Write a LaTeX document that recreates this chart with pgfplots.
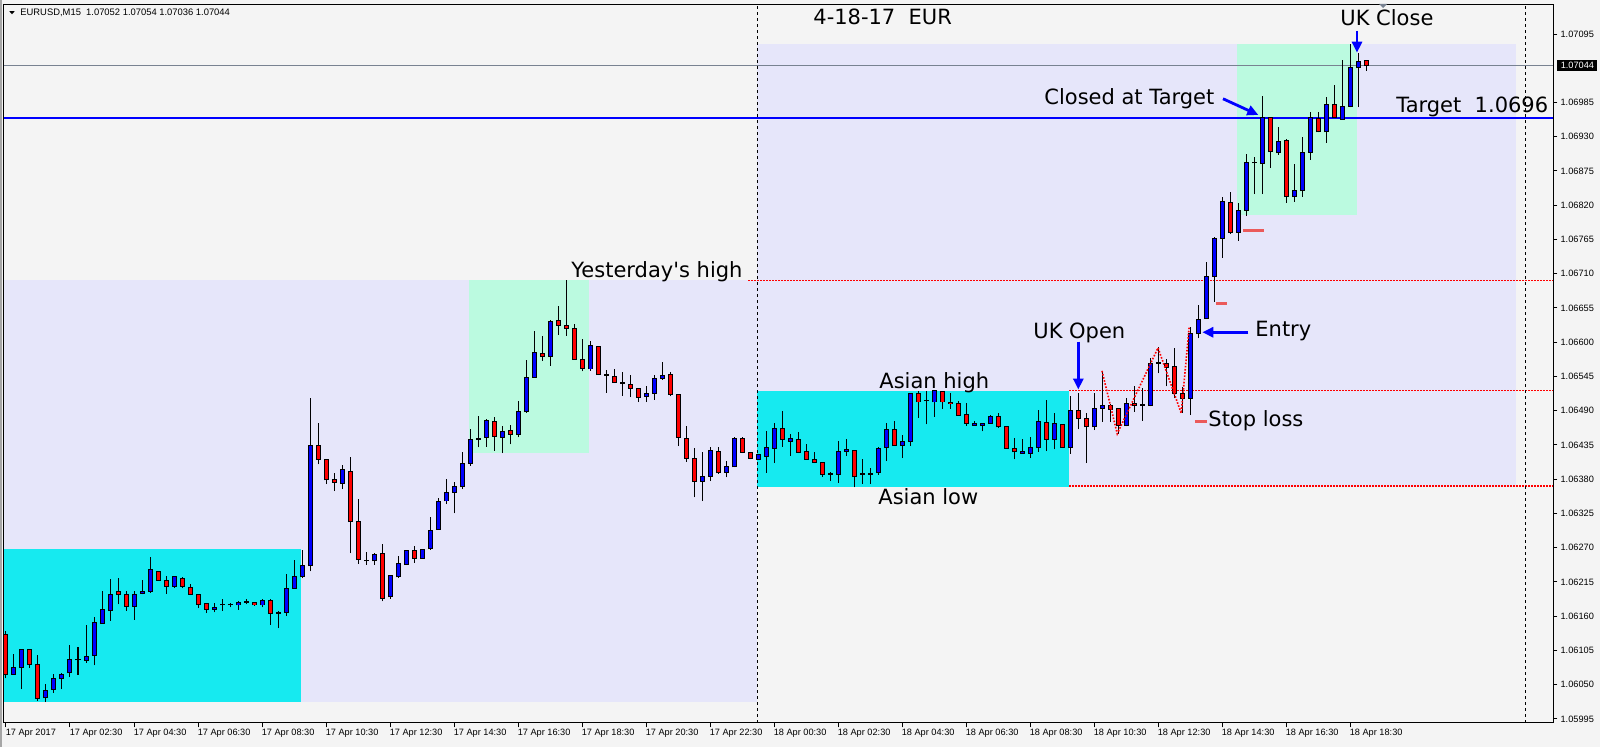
\documentclass[border=0pt]{standalone}
\usepackage{fontspec}
\setmainfont{DejaVu Sans}
\newfontfamily\tickfont{Liberation Sans}
\usepackage{pgfplots}
\pgfplotsset{compat=1.18}
\usepackage{pgfplotstable}
\usetikzlibrary{arrows.meta}
\definecolor{bgcol}{RGB}{244,244,244}
\definecolor{lav}{RGB}{230,230,250}
\definecolor{cyanbox}{RGB}{22,234,240}
\definecolor{mint}{RGB}{187,250,224}
\definecolor{upblue}{RGB}{0,0,255}
\definecolor{downred}{RGB}{255,0,0}
\definecolor{lvlgray}{RGB}{120,130,145}
\definecolor{salmon}{RGB}{235,90,90}

\pgfplotstableread{
x o h l c
0 1.06130 1.06136 1.06060 1.06067
1 1.06067 1.06099 1.06066 1.06078
2 1.06078 1.06108 1.06043 1.06106
3 1.06107 1.06108 1.06077 1.06083
4 1.06083 1.06098 1.06024 1.06028
5 1.06029 1.06051 1.06022 1.06041
6 1.06043 1.06067 1.06037 1.06060
7 1.06060 1.06068 1.06043 1.06067
8 1.06069 1.06114 1.06062 1.06091
9 1.06090 1.06111 1.06066 1.06090
10 1.06089 1.06146 1.06085 1.06096
11 1.06097 1.06158 1.06081 1.06150
12 1.06148 1.06200 1.06148 1.06170
13 1.06169 1.06220 1.06153 1.06195
14 1.06199 1.06221 1.06179 1.06195
15 1.06195 1.06200 1.06169 1.06176
16 1.06176 1.06200 1.06154 1.06195
17 1.06197 1.06218 1.06195 1.06200
18 1.06200 1.06255 1.06198 1.06235
19 1.06232 1.06233 1.06217 1.06218
20 1.06218 1.06224 1.06196 1.06208
21 1.06208 1.06224 1.06206 1.06223
22 1.06221 1.06223 1.06205 1.06208
23 1.06206 1.06211 1.06194 1.06195
24 1.06195 1.06196 1.06173 1.06179
25 1.06181 1.06182 1.06165 1.06171
26 1.06171 1.06182 1.06166 1.06174
27 1.06178 1.06187 1.06169 1.06178
28 1.06178 1.06182 1.06174 1.06178
29 1.06178 1.06184 1.06170 1.06182
30 1.06182 1.06187 1.06179 1.06182
31 1.06182 1.06183 1.06177 1.06178
32 1.06178 1.06187 1.06174 1.06186
33 1.06186 1.06187 1.06146 1.06165
34 1.06165 1.06168 1.06141 1.06165
35 1.06166 1.06228 1.06161 1.06205
36 1.06205 1.06250 1.06204 1.06223
37 1.06223 1.06267 1.06221 1.06241
38 1.06241 1.06510 1.06232 1.06434
39 1.06434 1.06470 1.06404 1.06412
40 1.06412 1.06413 1.06372 1.06379
41 1.06380 1.06390 1.06361 1.06375
42 1.06373 1.06403 1.06364 1.06396
43 1.06393 1.06415 1.06261 1.06312
44 1.06312 1.06349 1.06244 1.06251
45 1.06249 1.06263 1.06243 1.06249
46 1.06249 1.06261 1.06243 1.06259
47 1.06261 1.06276 1.06184 1.06189
48 1.06191 1.06226 1.06188 1.06225
49 1.06223 1.06256 1.06222 1.06244
50 1.06243 1.06266 1.06242 1.06265
51 1.06265 1.06272 1.06246 1.06253
52 1.06253 1.06268 1.06252 1.06267
53 1.06268 1.06319 1.06267 1.06298
54 1.06300 1.06350 1.06299 1.06345
55 1.06345 1.06380 1.06340 1.06359
56 1.06359 1.06376 1.06325 1.06369
57 1.06368 1.06424 1.06364 1.06406
58 1.06406 1.06460 1.06402 1.06444
59 1.06444 1.06482 1.06431 1.06444
60 1.06447 1.06477 1.06432 1.06475
61 1.06473 1.06480 1.06426 1.06449
62 1.06447 1.06466 1.06422 1.06457
63 1.06459 1.06467 1.06436 1.06452
64 1.06452 1.06506 1.06447 1.06489
65 1.06488 1.06571 1.06487 1.06544
66 1.06544 1.06618 1.06543 1.06584
67 1.06582 1.06610 1.06570 1.06577
68 1.06577 1.06635 1.06562 1.06634
69 1.06635 1.06658 1.06612 1.06627
70 1.06627 1.06700 1.06610 1.06622
71 1.06622 1.06630 1.06572 1.06573
72 1.06573 1.06605 1.06553 1.06558
73 1.06557 1.06602 1.06554 1.06595
74 1.06593 1.06594 1.06547 1.06548
75 1.06547 1.06555 1.06519 1.06547
76 1.06545 1.06557 1.06535 1.06536
77 1.06534 1.06552 1.06514 1.06534
78 1.06532 1.06547 1.06512 1.06526
79 1.06526 1.06527 1.06504 1.06512
80 1.06513 1.06529 1.06504 1.06518
81 1.06518 1.06548 1.06508 1.06542
82 1.06542 1.06569 1.06540 1.06546
83 1.06548 1.06552 1.06513 1.06516
84 1.06516 1.06517 1.06433 1.06447
85 1.06446 1.06466 1.06408 1.06414
86 1.06414 1.06430 1.06351 1.06377
87 1.06377 1.06424 1.06345 1.06384
88 1.06385 1.06431 1.06377 1.06426
89 1.06425 1.06431 1.06389 1.06390
90 1.06391 1.06409 1.06383 1.06400
91 1.06400 1.06448 1.06399 1.06446
92 1.06445 1.06448 1.06422 1.06423
93 1.06423 1.06424 1.06412 1.06414
94 1.06412 1.06421 1.06411 1.06420
95 1.06417 1.06457 1.06390 1.06431
96 1.06430 1.06470 1.06406 1.06462
97 1.06462 1.06489 1.06432 1.06444
98 1.06441 1.06453 1.06418 1.06445
99 1.06443 1.06456 1.06422 1.06423
100 1.06425 1.06437 1.06411 1.06412
101 1.06412 1.06424 1.06406 1.06407
102 1.06407 1.06408 1.06384 1.06388
103 1.06388 1.06391 1.06377 1.06388
104 1.06388 1.06441 1.06374 1.06425
105 1.06425 1.06444 1.06418 1.06428
106 1.06426 1.06427 1.06367 1.06384
107 1.06388 1.06412 1.06373 1.06388
108 1.06388 1.06398 1.06373 1.06388
109 1.06390 1.06431 1.06387 1.06430
110 1.06431 1.06470 1.06409 1.06460
111 1.06460 1.06474 1.06433 1.06434
112 1.06434 1.06451 1.06414 1.06440
113 1.06441 1.06519 1.06433 1.06518
114 1.06517 1.06522 1.06479 1.06504
115 1.06506 1.06522 1.06468 1.06506
116 1.06504 1.06522 1.06480 1.06522
117 1.06521 1.06522 1.06493 1.06504
118 1.06504 1.06519 1.06493 1.06502
119 1.06502 1.06505 1.06482 1.06483
120 1.06484 1.06502 1.06466 1.06470
121 1.06467 1.06474 1.06466 1.06469
122 1.06466 1.06471 1.06457 1.06470
123 1.06470 1.06483 1.06469 1.06480
124 1.06480 1.06486 1.06463 1.06464
125 1.06464 1.06465 1.06429 1.06430
126 1.06430 1.06446 1.06412 1.06424
127 1.06422 1.06445 1.06421 1.06424
128 1.06422 1.06448 1.06414 1.06431
129 1.06431 1.06491 1.06424 1.06472
130 1.06471 1.06508 1.06425 1.06444
131 1.06444 1.06486 1.06428 1.06470
132 1.06468 1.06469 1.06430 1.06431
133 1.06431 1.06514 1.06421 1.06491
134 1.06491 1.06518 1.06460 1.06478
135 1.06478 1.06486 1.06406 1.06464
136 1.06464 1.06518 1.06459 1.06494
137 1.06494 1.06553 1.06472 1.06498
138 1.06498 1.06500 1.06472 1.06492
139 1.06494 1.06495 1.06453 1.06466
140 1.06466 1.06510 1.06465 1.06502
141 1.06502 1.06529 1.06488 1.06498
142 1.06499 1.06526 1.06474 1.06499
143 1.06498 1.06574 1.06497 1.06566
144 1.06566 1.06593 1.06550 1.06566
145 1.06566 1.06573 1.06529 1.06560
146 1.06561 1.06590 1.06510 1.06518
147 1.06518 1.06528 1.06486 1.06510
148 1.06510 1.06625 1.06483 1.06614
149 1.06614 1.06660 1.06606 1.06637
150 1.06638 1.06729 1.06637 1.06705
151 1.06706 1.06769 1.06665 1.06767
152 1.06767 1.06834 1.06736 1.06826
153 1.06824 1.06842 1.06774 1.06777
154 1.06777 1.06823 1.06763 1.06811
155 1.06812 1.06903 1.06803 1.06888
156 1.06888 1.06898 1.06838 1.06888
157 1.06887 1.06995 1.06838 1.06961
158 1.06961 1.06962 1.06880 1.06906
159 1.06904 1.06946 1.06901 1.06922
160 1.06924 1.06927 1.06824 1.06834
161 1.06834 1.06886 1.06826 1.06843
162 1.06843 1.06929 1.06834 1.06905
163 1.06905 1.06970 1.06893 1.06961
164 1.06960 1.06970 1.06937 1.06938
165 1.06938 1.06994 1.06920 1.06981
166 1.06981 1.07013 1.06960 1.06961
167 1.06958 1.07054 1.06957 1.06978
168 1.06979 1.07079 1.06977 1.07041
169 1.07041 1.07065 1.06977 1.07051
170 1.07052 1.07054 1.07036 1.07044
}\candles

\begin{document}
\begin{tikzpicture}
\useasboundingbox (0,0) rectangle (800pt,373.5pt);
\fill[bgcol] (0,0) rectangle (800pt,373.5pt);
\begin{axis}[
  at={(2pt,12pt)}, anchor=south west,
  scale only axis, width=774.5pt, height=359pt,
  xmin=-0.25, xmax=193.375, ymin=1.059885, ymax=1.071416,
  axis background/.style={fill=bgcol},
  axis line style={black, line width=0.5pt},
  xtick={0,8,...,168},
  xticklabels={17 Apr 2017,17 Apr 02:30,17 Apr 04:30,17 Apr 06:30,17 Apr 08:30,17 Apr 10:30,17 Apr 12:30,17 Apr 14:30,17 Apr 16:30,17 Apr 18:30,17 Apr 20:30,17 Apr 22:30,18 Apr 00:30,18 Apr 02:30,18 Apr 04:30,18 Apr 06:30,18 Apr 08:30,18 Apr 10:30,18 Apr 12:30,18 Apr 14:30,18 Apr 16:30,18 Apr 18:30},
  ytick={1.05995,1.06050,1.06105,1.06160,1.06215,1.06270,1.06325,1.06380,1.06435,1.06490,1.06545,1.06600,1.06655,1.06710,1.06765,1.06820,1.06875,1.06930,1.06985,1.07095},
  yticklabels={1.05995,1.06050,1.06105,1.06160,1.06215,1.06270,1.06325,1.06380,1.06435,1.06490,1.06545,1.06600,1.06655,1.06710,1.06765,1.06820,1.06875,1.06930,1.06985,1.07095},
  xtick pos=bottom, ytick pos=right, yticklabel pos=right,
  tick align=outside, major tick length=2.2pt,
  tick style={black, line width=0.5pt},
  /pgf/number format/assume math mode=true,
  xticklabel style={font=\tickfont\fontsize{4.6pt}{5pt}\selectfont, anchor=north west, inner sep=0pt, xshift=-0.3pt, yshift=-0.6pt},
  yticklabel style={font=\tickfont\fontsize{4.6pt}{5pt}\selectfont, anchor=west, inner sep=0pt, xshift=1.4pt},
  clip=true,
  candle/.style={forget plot, draw=none, mark=none,
    /pgfplots/error bars/y dir=plus,
    /pgfplots/error bars/y explicit,
    /pgfplots/error bars/error mark=none,
    /pgfplots/error bars/error bar style={#1}},
]
% session boxes
\addplot[forget plot, fill=lav, draw=none] coordinates {(-0.25,1.06700) (93.875,1.06700) (93.875,1.06022) (-0.25,1.06022)} -- cycle;
\addplot[forget plot, fill=cyanbox, draw=none] coordinates {(-0.25,1.06268) (36.875,1.06268) (36.875,1.06022) (-0.25,1.06022)} -- cycle;
\addplot[forget plot, fill=mint, draw=none] coordinates {(57.875,1.06700) (72.875,1.06700) (72.875,1.06422) (57.875,1.06422)} -- cycle;
\addplot[forget plot, fill=lav, draw=none] coordinates {(93.875,1.07079) (188.75,1.07079) (188.75,1.06367) (93.875,1.06367)} -- cycle;
\addplot[forget plot, fill=cyanbox, draw=none] coordinates {(93.875,1.06522) (132.875,1.06522) (132.875,1.06367) (93.875,1.06367)} -- cycle;
\addplot[forget plot, fill=mint, draw=none] coordinates {(153.875,1.07079) (168.875,1.07079) (168.875,1.06804) (153.875,1.06804)} -- cycle;
% level lines
\addplot[forget plot, lvlgray, line width=0.5pt] coordinates {(-0.25,1.07044) (193.375,1.07044)};
\addplot[forget plot, upblue, line width=1pt] coordinates {(-0.25,1.06960) (193.375,1.06960)};
\addplot[forget plot, downred, line width=0.7pt, dash pattern=on 0.8pt off 0.7pt] coordinates {(92.75,1.06699) (193.375,1.06699)};
\addplot[forget plot, downred, line width=0.7pt, dash pattern=on 0.8pt off 0.7pt] coordinates {(132.875,1.06522) (193.375,1.06522)};
\addplot[forget plot, downred, line width=0.7pt, dash pattern=on 0.8pt off 0.7pt] coordinates {(132.875,1.06369) (193.375,1.06369)};
% day separators
\addplot[forget plot, black, line width=0.5pt, dash pattern=on 1.5pt off 1.5pt] coordinates {(93.875,1.059885) (93.875,1.071416)};
\addplot[forget plot, black, line width=0.5pt, dash pattern=on 1.5pt off 1.5pt] coordinates {(189.875,1.059885) (189.875,1.071416)};
% wicks
\addplot[candle={draw=black, line width=0.5pt}]
  table[x=x, y=l, y error plus expr={\thisrow{h}-\thisrow{l}}] {\candles};
% body outlines
\addplot[candle={draw=black, line width=2.5pt}]
  table[x=x, y expr={min(\thisrow{o},\thisrow{c})-0.000008}, y error plus expr={max(abs(\thisrow{c}-\thisrow{o}),0.00001)+0.000016}] {\candles};
% up bodies
\addplot[candle={draw=upblue, line width=1.5pt}, restrict expr to domain={\thisrow{c}-\thisrow{o}}{0.000017:1}]
  table[x=x, y expr={\thisrow{o}+0.000008}, y error plus expr={\thisrow{c}-\thisrow{o}-0.000016}] {\candles};
% down bodies
\addplot[candle={draw=downred, line width=1.5pt}, restrict expr to domain={\thisrow{o}-\thisrow{c}}{0.000017:1}]
  table[x=x, y expr={\thisrow{c}+0.000008}, y error plus expr={\thisrow{o}-\thisrow{c}-0.000016}] {\candles};
% zigzag
\addplot[forget plot, downred, line width=0.8pt, dash pattern=on 0.8pt off 0.8pt] coordinates {(137,1.06554) (138.9,1.06453) (144,1.06591) (146.9,1.06486) (147.9,1.06625)};
% level markers
\addplot[forget plot, salmon, line width=1.6pt] coordinates {(154.6,1.06779) (157.25,1.06779)};
\addplot[forget plot, salmon, line width=1.6pt] coordinates {(151.3,1.06662) (152.6,1.06662)};
\addplot[forget plot, salmon, line width=1.6pt] coordinates {(148.6,1.06473) (150.1,1.06473)};
% arrows
\draw[upblue, line width=1.4pt, -{Triangle[length=5.5pt,width=5pt]}] (axis cs:168.875,1.07100) -- (axis cs:168.875,1.07065);
\draw[upblue, line width=1.4pt, -{Triangle[length=5.5pt,width=5pt]}] (axis cs:152.125,1.06991) -- (axis cs:156.54,1.06965);
\draw[upblue, line width=1.4pt, -{Triangle[length=5.5pt,width=5pt]}] (axis cs:134.04,1.06601) -- (axis cs:134.04,1.06524);
\draw[upblue, line width=1.4pt, -{Triangle[length=5.5pt,width=5pt]}] (axis cs:155.29,1.06616) -- (axis cs:149.54,1.06616);
\end{axis}
\begin{scope}[x=0.5pt,y=-0.5pt,shift={(0pt,373.5pt)}]
\draw[gray!70, line width=0.8pt] (0.8,0) -- (0.8,747);
\fill[black] (9.3,11.2) -- (14.7,11.2) -- (12,14.3) -- cycle;
\node[anchor=base west, inner sep=0pt, font=\tickfont\fontsize{4.7pt}{5pt}\selectfont] at (20,16) {EURUSD,M15\ \ 1.07052 1.07054 1.07036 1.07044};
\fill[lvlgray] (1379,4) -- (1387,4) -- (1383,8) -- cycle;
\node[fill=black, text=white, inner sep=0pt, minimum height=5.5pt, minimum width=20pt, anchor=west, font=\tickfont\fontsize{4.6pt}{5pt}\selectfont] at (1557,65.8) {1.07044};
\begin{scope}[every node/.style={anchor=base west, inner sep=0pt, font=\fontsize{10.5pt}{12pt}\selectfont}]
\node at (813,25) {4-18-17\ \ EUR};
\node at (1340,26) {UK Close};
\node at (1044,105) {Closed at Target};
\node at (1396,113) {Target\ \ 1.0696};
\node at (571,278) {Yesterday\textquotesingle s high};
\node at (1033,339) {UK Open};
\node at (1255,337) {Entry};
\node at (1208,427) {Stop loss};
\node at (879,389) {Asian high};
\node at (878,504.5) {Asian low};
\end{scope}
\end{scope}
\end{tikzpicture}
\end{document}
